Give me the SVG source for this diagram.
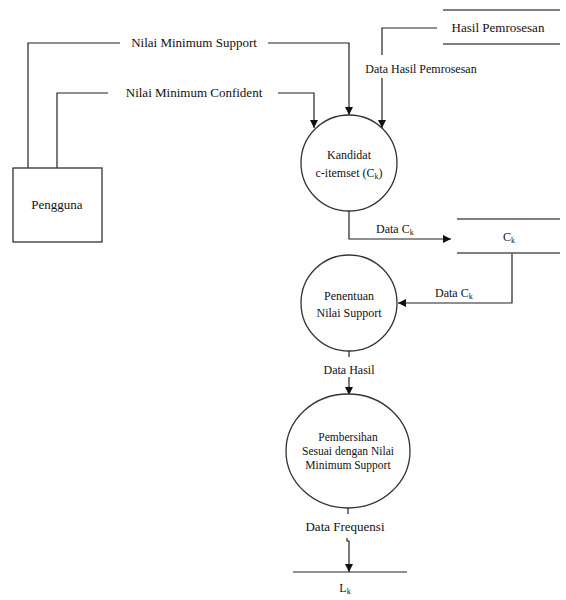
<svg xmlns="http://www.w3.org/2000/svg" width="566" height="600" viewBox="0 0 566 600" font-family="Liberation Serif, Tinos, Times New Roman, Times, Noto Serif, DejaVu Serif, serif">
<style>
.ln{fill:none;stroke:#222;stroke-width:1.2}
.shape{fill:#fff;stroke:#333;stroke-width:1.3}
.st{fill:none;stroke:#555;stroke-width:1.5}
text{font-size:12px;fill:#111}
.lg{font-size:13px}
.sm{font-size:11.5px}
.sub{font-size:8px}
</style>
<defs>
<marker id="ah" viewBox="0 0 10 10" refX="10" refY="5" markerWidth="8" markerHeight="8" markerUnits="userSpaceOnUse" orient="auto">
<path d="M0,0 L10,5 L0,10 z" fill="#111"/>
</marker>
</defs>
<rect width="566" height="600" fill="#fff"/>
<g id="connectors">
<path class="ln" d="M28,168 V43 H120 M268,43 H349 V115" marker-end="url(#ah)"/>
<path class="ln" d="M57,168 V93 H108 M278,93 H314 V128" marker-end="url(#ah)"/>
<path class="ln" d="M437,28 H382 V55 M382,78 V128" marker-end="url(#ah)"/>
<path class="ln" d="M349,210 V239 H451" marker-end="url(#ah)"/>
<path class="ln" d="M512,253 V303 H398" marker-end="url(#ah)"/>
<path class="ln" d="M349,350 V357 M349,377 V395" marker-end="url(#ah)"/>
<path class="ln" d="M348,508 V514 M347,538 V541 H349 V572" marker-end="url(#ah)"/>
<text x="194" y="47" text-anchor="middle" class="lg">Nilai Minimum Support</text>
<text x="194" y="97" text-anchor="middle" class="lg">Nilai Minimum Confident</text>
<text x="421" y="73" text-anchor="middle">Data Hasil Pemrosesan</text>
<text x="376" y="233">Data C<tspan class="sub" dy="2">k</tspan></text>
<text x="435" y="297">Data C<tspan class="sub" dy="2">k</tspan></text>
<text x="349" y="374" text-anchor="middle">Data Hasil</text>
<text x="345" y="531" text-anchor="middle" class="lg">Data Frequensi</text>
</g>
<g id="pengguna">
<rect class="shape" x="13" y="168" width="89" height="74"/>
<text x="57" y="209" text-anchor="middle" class="lg">Pengguna</text>
</g>
<g id="hasil-pemrosesan">
<path class="st" d="M443,10 H560 M443,44 H560"/>
<text x="498" y="32" text-anchor="middle" class="lg">Hasil Pemrosesan</text>
</g>
<g id="kandidat">
<circle class="shape" cx="349" cy="163" r="48"/>
<text x="349" y="159" text-anchor="middle">Kandidat</text>
<text x="349" y="177" text-anchor="middle">c-itemset (C<tspan class="sub" dy="2">k</tspan><tspan dy="-2">)</tspan></text>
</g>
<g id="ck">
<path class="st" d="M457,219 H560 M457,253 H560"/>
<text x="509" y="241" text-anchor="middle">C<tspan class="sub" dy="2">k</tspan></text>
</g>
<g id="penentuan">
<circle class="shape" cx="349" cy="303" r="48"/>
<text x="349" y="300" text-anchor="middle">Penentuan</text>
<text x="349" y="317" text-anchor="middle">Nilai Support</text>
</g>
<g id="pembersihan">
<ellipse class="shape" cx="348" cy="451" rx="62" ry="57"/>
<text x="348" y="441" text-anchor="middle" class="sm">Pembersihan</text>
<text x="348" y="455" text-anchor="middle" class="sm">Sesuai dengan Nilai</text>
<text x="348" y="469" text-anchor="middle" class="sm">Minimum Support</text>
</g>
<g id="lk">
<path class="ln" d="M293,572 H407"/>
<text x="345" y="592" text-anchor="middle">L<tspan class="sub" dy="2">k</tspan></text>
</g>
</svg>
